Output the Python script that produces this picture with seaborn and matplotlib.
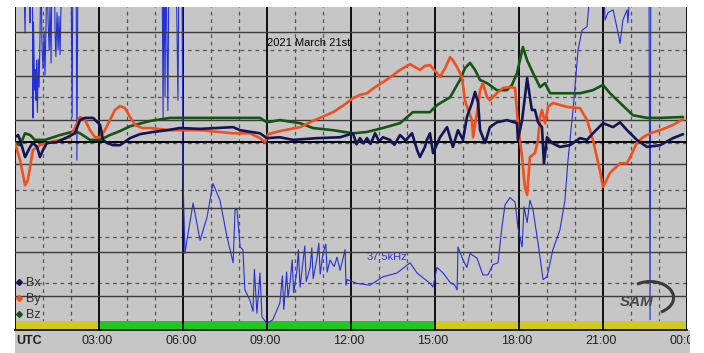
import numpy as np
import pandas as pd
import matplotlib
matplotlib.use("Agg")
import matplotlib.pyplot as plt
import matplotlib.patches as mpatches
from matplotlib.lines import Line2D
import seaborn as sns

# ---------------------------------------------------------------------------
# Data (hours UTC; magnetometer in nT relative to baseline; VLF in dB)
# ---------------------------------------------------------------------------

bx_hours = [0, 0.11, 0.18, 0.36, 0.54, 0.64, 0.79, 0.89, 1.0, 1.14, 1.5, 1.86, 2.14, 2.32,
            2.5, 2.79, 3.04, 3.14, 3.29, 3.5, 3.75, 3.86, 4.11, 4.46, 4.93, 5.43, 5.89,
            6.61, 7.79, 8.04, 8.75, 9.0, 9.46, 9.93, 10.79, 11.61, 12.07, 12.2, 12.32, 12.45,
            12.57, 12.7, 12.86, 13.0, 13.14, 13.39, 13.55, 13.75, 13.95, 14.18, 14.36, 14.46,
            14.64, 14.71, 14.82, 14.93, 15.18, 15.43, 15.64, 15.82, 16.0, 16.14, 16.32, 16.43,
            16.54, 16.61, 16.79, 16.96, 17.21, 17.57, 17.93, 17.96, 18.11, 18.21, 18.29,
            18.39, 18.46, 18.57, 18.68, 18.82, 18.89, 19.0, 19.18, 19.46, 19.82, 20.18,
            20.43, 20.64, 21.0, 21.36, 21.61, 21.86, 22.21, 22.57, 23.04, 23.5, 23.86]
bx_values = [1.1, 1.6, 0.5, -3.4, -1.1, -0.2, -1.1, -3.4, -1.8, -0.2, 0, 1.1, 2.0, 5.0,
             5.5, 5.5, 3.9, 0.5, -0.2, -0.7, -0.7, -0.2, 0.9, 1.8, 2.3, 2.7, 3.2,
             3.0, 3.4, 2.7, 2.0, 0.9, 1.1, 0.5, 0.9, 1.1, 2.0, -0.5, 0.9, -0.3,
             0.9, -0.4, 2.0, 0.2, 1.1, 0.5, -0.6, 1.6, 0.4, 2.0, -1.8, -3.4,
             -1.1, 0.5, 2.0, -2.5, 1.1, 3.4, -1.1, 2.7, 0.5, 5.7, 8.9, 11.4,
             8.9, 2.7, -0.2, 3.4, 4.5, 5.0, 4.3, 0.5, 5.0, 10.2, 14.5,
             10.2, 7.3, 7.3, 4.5, 3.4, -4.8, 1.1, -0.2, -1.1, -0.7, 0.9,
             0.5, 2.0, 4.3, 3.4, 4.5, 2.7, 0.5, -1.1, -0.7, 0.9, 1.8]

by_hours = [0, 0.18, 0.36, 0.46, 0.64, 0.89, 1.25, 1.61, 1.96, 2.14, 2.32, 2.5, 2.68,
            2.86, 3.04, 3.21, 3.39, 3.57, 3.75, 3.93, 4.11, 4.29, 4.54, 4.82, 5.54,
            6.0, 6.61, 7.79, 8.39, 8.75, 8.93, 9.04, 9.46, 10.18, 10.71, 11.36, 11.79,
            12.07, 12.32, 12.57, 12.86, 13.14, 13.46, 13.75, 14.11, 14.46, 14.64, 14.82,
            15.07, 15.18, 15.36, 15.54, 15.64, 15.79, 15.96, 16.07, 16.18, 16.32, 16.36,
            16.43, 16.5, 16.61, 16.71, 16.86, 16.96, 17.21, 17.43, 17.68, 17.86, 17.96,
            18.11, 18.21, 18.29, 18.39, 18.57, 18.68, 18.75, 18.82, 18.93, 19.04, 19.21,
            19.71, 20.18, 20.43, 20.64, 20.89, 21.0, 21.25, 21.61, 21.86, 22.04, 22.21,
            22.43, 22.68, 23.04, 23.5, 23.86]
by_values = [-0.2, -4.1, -9.8, -8.6, -1.8, -0.7, 0, 0.5, 1.1, 3.2, 5.7, 5.0, 2.7,
             1.1, 1.1, 2.7, 5.0, 7.3, 8.2, 7.7, 5.7, 3.9, 3.2, 3.2, 2.7,
             2.7, 2.7, 2.0, 2.0, 0.9, 0, 1.8, 2.5, 3.4, 5.0, 6.8, 8.6,
             10.0, 10.7, 11.1, 12.5, 13.6, 15.0, 16.4, 17.7, 16.4, 17.3, 17.5,
             15.7, 14.8, 16.8, 19.3, 18.6, 17.0, 14.8, 9.5, 7.3, 5.0, 1.1,
             3.9, 6.6, 11.8, 13.4, 10.2, 9.5, 11.1, 12.3, 12.5, 12.3, 4.3,
             -3.4, -10.2, -12.0, -3.4, -2.5, 0.5, 5.7, 7.3, 4.3, 8.0, 8.9,
             8.0, 7.7, 5.0, 0.5, -6.4, -10.2, -7.0, -4.8, -4.8, -2.5, -0.2,
             1.1, 2.0, 2.7, 3.9, 5.2]

bz_hours = [0, 0.18, 0.36, 0.54, 0.71, 1.07, 1.61, 2.14, 2.32, 2.68, 3.04, 3.39, 3.75,
            4.11, 4.82, 5.54, 6.96, 8.75, 9.0, 9.46, 10.18, 10.64, 11.36, 12.07, 12.57,
            13.14, 13.75, 14.21, 14.82, 15.07, 15.54, 15.89, 16.07, 16.25, 16.43, 16.61,
            16.86, 17.21, 17.57, 17.75, 17.93, 18.14, 18.29, 18.5, 18.75, 18.93, 19.11,
            19.46, 20.18, 20.64, 21.0, 21.25, 21.61, 22.07, 22.57, 23.04, 23.86]
bz_values = [-0.2, -0.7, 2.0, 1.6, 0.5, 0.5, 1.6, 2.5, 2.0, 0.5, 0.5, 1.6, 2.5,
             3.6, 4.8, 5.5, 5.5, 5.5, 4.5, 5.0, 4.3, 3.2, 2.7, 2.0, 2.3,
             3.2, 4.3, 6.8, 6.8, 8.4, 10.2, 14.1, 16.8, 18.0, 16.4, 14.1,
             13.4, 11.8, 11.8, 13.0, 15.7, 21.6, 18.6, 15.7, 12.5, 13.4, 11.1,
             11.1, 11.1, 11.8, 13.0, 11.1, 8.9, 6.1, 5.5, 5.5, 5.7]

# 37.5 kHz VLF amplitude; 40 = off the top of the scale
vlf_hours = [0.30, 0.36, 0.39, 0.50, 0.54, 0.57, 0.62, 0.64, 0.66, 0.70, 0.73, 0.75, 0.77,
             0.80, 0.83, 0.86, 0.89, 0.93, 0.96, 1.00, 1.04, 1.07, 1.11, 1.14, 1.18, 1.22,
             1.25, 1.29, 1.32, 1.40, 1.43, 1.46, 1.50, 1.54, 1.57, 1.61, 1.64, 1.68, 2.00,
             2.04, 2.07, 2.18, 2.21, 2.25, 5.25, 5.29, 5.32, 5.36, 5.39, 5.46, 5.50, 5.75,
             5.82, 5.86, 5.96, 6.00, 6.07, 6.14, 6.36, 6.61, 6.86, 7.07, 7.32, 7.57, 7.79,
             7.86, 7.93, 8.04, 8.14, 8.21, 8.39, 8.50, 8.55, 8.64, 8.75, 8.82, 9.00, 9.21,
             9.46, 9.55, 9.60, 9.70, 9.75, 9.82, 9.90, 9.95, 10.07, 10.12, 10.18, 10.29,
             10.35, 10.40, 10.54, 10.60, 10.65, 10.79, 10.85, 10.90, 11.00, 11.10, 11.15,
             11.25, 11.40, 11.50, 11.61, 11.79, 11.82, 11.86, 12.21, 12.68, 13.14, 13.64,
             14.11, 14.36, 14.82, 14.93, 15.07, 15.29, 15.54, 15.71, 15.79, 15.82, 16.00,
             16.14, 16.25, 16.50, 16.71, 16.89, 17.07, 17.25, 17.39, 17.50, 17.68, 17.86,
             17.96, 18.11, 18.18, 18.29, 18.39, 18.50, 18.68, 18.86, 19.00, 19.21, 19.46,
             19.64, 19.75, 19.93, 20.11, 20.25, 20.43, 20.64, 21.00, 21.07, 21.18, 21.36,
             21.54, 21.61, 21.71, 21.86, 21.89, 22.04, 22.64, 22.68, 22.71, 24.00]
vlf_values = [40, 31.8, 40, 40, 32.9, 40, 40, 22.7, 33.0, 25.7, 27.9, 24.6, 28.9,
              23.3, 29.0, 26.0, 31.0, 40, 30.7, 28.0, 32.0, 27.3, 33.0, 40, 33.2, 30.0,
              35.0, 28.6, 40, 40, 32.0, 29.3, 34.0, 30.0, 33.6, 29.5, 34.5, 40, 40,
              22.8, 40, 40, 18.2, 40, 40, 22.7, 40, 25.0, 40, 23.5, 40, 40,
              24.6, 40, 40, 16.4, 8.2, 9.6, 13.6, 9.6, 12.1, 15.7, 13.9, 10.0, 7.2,
              12.9, 12.9, 8.9, 8.6, 4.3, 3.2, 2.0, 6.5, 1.8, 6.1, 1.4, 0.7, 1.1,
              2.9, 5.8, 2.2, 6.2, 3.5, 5.0, 7.5, 4.0, 6.4, 8.6, 4.6, 7.5,
              9.0, 5.2, 6.7, 8.8, 5.5, 7.8, 9.3, 6.0, 8.2, 9.2, 6.2,
              7.5, 6.8, 7.8, 6.4, 8.6, 4.8, 5.4, 5.0, 4.8, 5.7, 6.1,
              7.2, 6.1, 5.0, 4.6, 6.7, 6.1, 5.1, 4.8, 4.3, 8.9, 7.5,
              6.7, 8.2, 7.7, 5.9, 5.9, 7.0, 7.2, 11.0, 13.4, 14.2, 13.7,
              11.0, 8.9, 13.2, 11.5, 13.9, 12.9, 9.3, 5.4, 5.7, 8.6, 10.7,
              13.9, 18.2, 23.6, 30.0, 32.1, 32.5, 40, 40, 33.2, 34.0, 34.3,
              31.8, 30.7, 33.2, 34.3, 32.9, 40, 40, 1.1, 40, 40]

# day/night bar along the bottom
band_start = [0, 3, 15]
band_end = [3, 15, 24]
band_color = ["#d2c81e", "#1ec81e", "#d2c81e"]

hour_labels = ["UTC", "03:00", "06:00", "09:00", "12:00", "15:00", "18:00", "21:00", "00:00"]
series_names = ["Bx", "By", "Bz"]
series_colors = ["#141455", "#f0501e", "#145514"]

# ---------------------------------------------------------------------------

sns.set_style("white")
plt.rcParams["font.family"] = ["Liberation Sans", "DejaVu Sans"]

BG = "#c6c6c6"
fig = plt.figure(figsize=(7.04, 3.53), dpi=100)
fig.patch.set_facecolor("white")

# grey strip holding the time labels, and a white mask that cuts the last label
strip = mpatches.Rectangle((15 / 704, 0), 675 / 704, 23 / 353, transform=fig.transFigure,
                           facecolor=BG, edgecolor="none", zorder=-1)
fig.patches.append(strip)
mask = mpatches.Rectangle((690 / 704, 0), 14 / 704, 23 / 353, transform=fig.transFigure,
                          facecolor="white", edgecolor="none", zorder=10)
fig.patches.append(mask)

ax = fig.add_axes([15 / 704, 23 / 353, 672 / 704, 323 / 353])
ax.set_facecolor(BG)
ax.set_xlim(0, 24)
ax.set_ylim(0, 34.6)

# VLF grid (dashed) and hour grid
for v in range(5, 31, 5):
    ax.axhline(v, color="#555555", lw=0.9, ls=(0, (3, 3)), zorder=1)
for h in range(25):
    if h % 3:
        ax.axvline(h, color="#555555", lw=0.9, ls=(0, (3, 3)), zorder=1)
    else:
        ax.axvline(h, color="black", lw=1.3, zorder=1.6)

for s, e, c in zip(band_start, band_end, band_color):
    ax.axvspan(s, e, ymin=0, ymax=9 / 323, color=c, lw=0, zorder=1.3)

sns.lineplot(x=vlf_hours, y=vlf_values, ax=ax, color="#2530d8", lw=0.8,
             sort=False, estimator=None, legend=False, zorder=2)

ax.text(13.3, 7.8, "37.5kHz", color="#3535c8", fontsize=8, ha="center", va="center")
ax.text(10.5, 30.7, "2021 March 21st", color="black", fontsize=8, ha="center", va="center")

ax.set_yticks([])
ax.set_xticks(range(25))
ax.set_xticklabels([])
ax.tick_params(axis="x", direction="inout", length=8, width=1, color="black")
for sp in ["top", "left", "right"]:
    ax.spines[sp].set_visible(False)
ax.spines["bottom"].set_color("black")
ax.spines["bottom"].set_linewidth(1.2)

for i, lab in enumerate(hour_labels):
    ax.text(i * 3 - 0.08 if i else 0.05, -0.034, lab, transform=ax.get_xaxis_transform(),
            ha="left" if i == 0 else "center", va="center", fontsize=9,
            fontweight="bold" if i == 0 else "normal", color="#202020", clip_on=False)

# magnetometer traces on their own scale
axb = ax.twinx()
axb.set_ylim(-42.7, 30.7)
axb.axis("off")
for b in [25, 15, 5, -5, -15, -25, -35]:
    axb.axhline(b, color="#3c3c3c", lw=1.0, zorder=1)
axb.axhline(0, color="black", lw=1.4, zorder=1)

mag = pd.DataFrame({"hour": bz_hours, "value": bz_values})
sns.lineplot(data=mag, x="hour", y="value", ax=axb, color=series_colors[2], lw=1.9,
             estimator=None, legend=False, zorder=3)
mag = pd.DataFrame({"hour": by_hours, "value": by_values})
sns.lineplot(data=mag, x="hour", y="value", ax=axb, color=series_colors[1], lw=1.9,
             estimator=None, legend=False, zorder=3)
mag = pd.DataFrame({"hour": bx_hours, "value": bx_values})
sns.lineplot(data=mag, x="hour", y="value", ax=axb, color=series_colors[0], lw=1.9,
             estimator=None, legend=False, zorder=3)
axb.set_xlim(0, 24)

handles = [Line2D([], [], ls="none", marker="D", markersize=3, color=c, label=n)
           for n, c in zip(series_names, series_colors)]
leg = axb.legend(handles=handles, loc="lower left", bbox_to_anchor=(0.0, 0.028),
                 frameon=False, fontsize=9, handlelength=0.6, handletextpad=0.25,
                 labelspacing=0.3, borderpad=0, borderaxespad=0)
for t in leg.get_texts():
    t.set_color("#303030")

# SAM logo, bottom right
axb.text(0.925, 0.087, "SAM", transform=axb.transAxes, fontsize=11, fontstyle="italic",
         fontweight="bold", color="#4a4a4a", ha="center", va="center")
axb.add_patch(mpatches.Arc((0.945, 0.1), 0.07, 0.1, theta1=-70, theta2=115,
                           transform=axb.transAxes, color="#3a3a3a", lw=2.2))

fig.savefig("out.png", dpi=100)
